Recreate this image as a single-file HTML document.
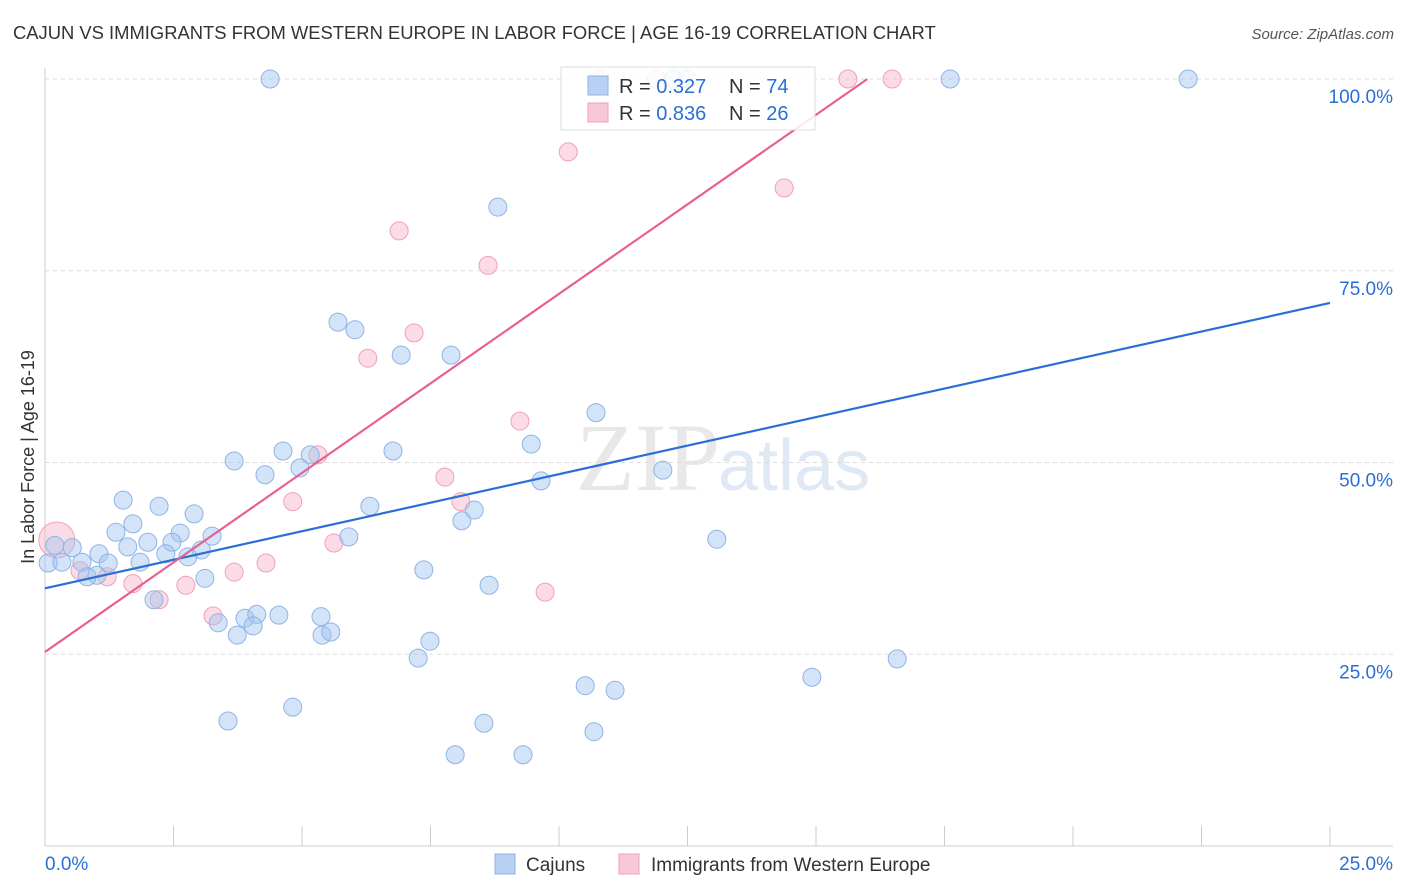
<!DOCTYPE html>
<html><head><meta charset="utf-8"><style>
body{margin:0;background:#fff;font-family:"Liberation Sans",sans-serif;}
</style></head><body>
<svg id="chart" width="1406" height="892" xmlns="http://www.w3.org/2000/svg" style="display:block">
<text x="13" y="39" font-size="18.4" fill="#333" font-family="Liberation Sans, sans-serif">CAJUN VS IMMIGRANTS FROM WESTERN EUROPE IN LABOR FORCE | AGE 16-19 CORRELATION CHART</text>
<text x="1394" y="39" font-size="15" fill="#555" text-anchor="end" font-style="italic">Source: ZipAtlas.com</text>
<text x="720" y="490" font-size="96" fill="#e8e8e8" text-anchor="end" font-family="Liberation Serif, serif">ZIP</text>
<text x="718" y="490" font-size="72" fill="#dfe8f5">atlas</text>
<g id="grid"></g>
<g id="axes"></g>
<g id="pts"></g>
<g id="lines"></g>
<text transform="translate(34,457) rotate(-90)" font-size="18" fill="#333" text-anchor="middle">In Labor Force | Age 16-19</text>
<g>
<rect x="561" y="67" width="254" height="63" fill="rgba(255,255,255,0.85)" stroke="#ddd"/>
<rect x="588" y="76" width="20" height="19" fill="#b8d0f2" stroke="#8fb3e6"/>
<text x="619" y="93" font-size="20" fill="#333">R = <tspan fill="#2a6fd6">0.327</tspan></text>
<text x="729" y="93" font-size="20" fill="#333">N = <tspan fill="#2a6fd6">74</tspan></text>
<rect x="588" y="103" width="20" height="19" fill="#f9c8d6" stroke="#f0a0b8"/>
<text x="619" y="120" font-size="20" fill="#333">R = <tspan fill="#2a6fd6">0.836</tspan></text>
<text x="729" y="120" font-size="20" fill="#333">N = <tspan fill="#2a6fd6">26</tspan></text>
</g>
<g>
<rect x="495" y="854" width="20" height="20" fill="#b8d0f2" stroke="#8fb3e6"/>
<text x="526" y="871" font-size="19" fill="#333">Cajuns</text>
</g>
<g>
<rect x="619" y="854" width="20" height="20" fill="#f9c8d6" stroke="#f0a0b8"/>
<text x="651" y="871" font-size="19" fill="#333">Immigrants from Western Europe</text>
</g>
</svg>
<script>
const blueX=[4.38,17.61,22.24,8.81,5.70,6.03,6.93,7.90,10.72,9.46,4.63,6.77,5.16,4.96,3.68,4.28,12.02,9.65,1.52,2.22,2.90,6.32,8.35,8.11,1.71,1.38,2.63,3.25,5.91,13.07,0.19,0.53,1.61,2.00,2.47,3.04,1.05,2.35,2.78,0.72,1.23,1.85,0.06,0.33,7.37,1.01,0.82,3.11,8.64,2.12,3.37,3.89,4.12,4.55,5.37,4.05,3.74,5.39,5.56,7.49,7.26,10.51,11.09,16.58,14.92,4.82,3.56,8.54,10.68,7.98,9.30,12.22,12.5];
const blueY=[100,100,100,83.3,68.3,67.3,64.0,64.0,56.5,52.4,51.5,51.5,51.0,49.3,50.2,48.4,49.0,47.6,45.1,44.3,43.3,44.3,43.8,42.4,42.0,40.9,40.8,40.4,40.3,40.0,39.2,38.9,39.0,39.6,39.6,38.6,38.1,38.1,37.7,37.0,36.9,37.0,36.9,37.0,36.0,35.3,35.1,34.9,34.0,32.1,29.1,29.7,30.2,30.1,29.9,28.7,27.5,27.5,27.9,26.7,24.5,20.9,20.3,24.4,22.0,18.1,16.3,16.0,14.9,11.9,11.9,100,100];
const pinkX=[0.23,0.68,1.21,1.71,2.22,2.74,3.27,3.68,4.30,4.82,5.31,5.62,6.28,6.89,7.18,7.78,8.09,8.62,9.24,9.73,10.18,11.89,14.38,15.62,16.48,10.8];
const pinkY=[39.9,35.9,35.1,34.2,32.1,34.0,30.0,35.7,36.9,44.9,51.0,39.5,63.6,80.2,66.9,48.1,44.9,75.7,55.4,33.1,90.5,100,85.8,100,100,100];
const pinkR=[18,9,9,9,9,9,9,9,9,9,9,9,9,9,9,9,9,9,9,9,9,9,9,9,9,9];
const blueLine=[[0,33.6],[25,70.8]];
const pinkLine=[[0,25.3],[16.0,100]];
const yTicks=[25,50,75,100];
const xTicks=[0,2.5,5,7.5,10,12.5,15,17.5,20,22.5,25];
const X=v=>45+v*51.4, Y=v=>846-v*7.67;
const NS="http://www.w3.org/2000/svg";
function mk(tag,attrs,parent){const e=document.createElementNS(NS,tag);for(const k in attrs)e.setAttribute(k,attrs[k]);document.getElementById(parent).appendChild(e);return e;}
yTicks.forEach(t=>{
 const l=mk('line',{x1:45,x2:1393,y1:Y(t),y2:Y(t),stroke:'#ddd','stroke-dasharray':'4,4'},'grid');
 
 
 const tx=mk('text',{x:1393,y:Y(t)+24,'font-size':19,fill:'#2a6fd6','text-anchor':'end'},'axes');
 tx.textContent=t.toFixed(1)+'%';
 
 
});
let a=mk('line',{x1:45,x2:45,y1:68,y2:846,stroke:'#ccc'},'axes');


a=mk('line',{x1:45,x2:1393,y1:846,y2:846,stroke:'#ccc'},'axes');


xTicks.forEach(t=>{
 const l=mk('line',{x1:X(t),x2:X(t),y1:826,y2:846,stroke:'#ccc'},'axes');
 
 
});
[[0,'start'],[25,'end']].forEach(([t,anc])=>{
 const tx=mk('text',{x:t===0?45:1393,y:870,'font-size':19,fill:'#2a6fd6','text-anchor':anc},'axes');
 tx.textContent=t.toFixed(1)+'%';
 
 
});
pinkX.forEach((v,i)=>{
 const c=mk('circle',{cx:X(v),cy:Y(pinkY[i]),r:pinkR[i],fill:'rgba(246,178,200,0.45)',stroke:'#f0a0b8','stroke-width':1},'pts');
 
 
});
blueX.forEach((v,i)=>{
 const c=mk('circle',{cx:X(v),cy:Y(blueY[i]),r:9,fill:'rgba(160,195,240,0.45)',stroke:'#8fb3e6','stroke-width':1},'pts');
 
 
});
let ln=mk('line',{x1:X(blueLine[0][0]),y1:Y(blueLine[0][1]),x2:X(blueLine[1][0]),y2:Y(blueLine[1][1]),stroke:'#2a6fd6','stroke-width':2.2},'lines');


ln=mk('line',{x1:X(pinkLine[0][0]),y1:Y(pinkLine[0][1]),x2:X(pinkLine[1][0]),y2:Y(pinkLine[1][1]),stroke:'#e8608f','stroke-width':2.2},'lines');


</script>
</body></html>
